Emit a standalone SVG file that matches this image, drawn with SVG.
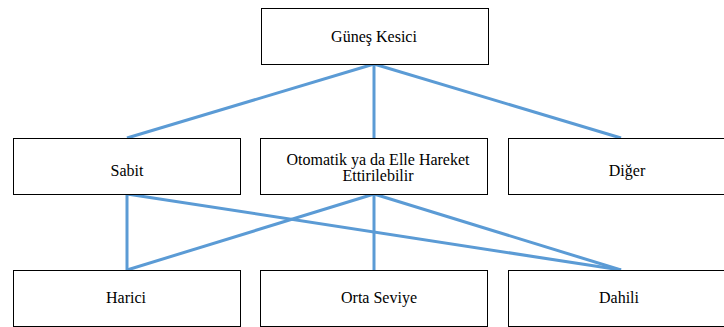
<svg xmlns="http://www.w3.org/2000/svg" width="724" height="327" viewBox="0 0 724 327">
<style>
.box{fill:#fff;stroke:#000;stroke-width:1}
.t{font-family:'Liberation Serif','DejaVu Serif',serif;font-size:16px;fill:#000;text-anchor:middle}
.c{stroke:#5B9BD5;stroke-width:3;fill:none}
</style>
<rect width="724" height="327" fill="#fff"/>
<g id="connectors">
<line class="c" x1="374" y1="64" x2="127" y2="138"/>
<line class="c" x1="374" y1="64" x2="374" y2="138"/>
<line class="c" x1="374" y1="64" x2="621" y2="138"/>
<line class="c" x1="127" y1="194" x2="127" y2="270"/>
<line class="c" x1="127" y1="194" x2="621" y2="270"/>
<line class="c" x1="374" y1="194" x2="127" y2="270"/>
<line class="c" x1="374" y1="194" x2="374" y2="270"/>
<line class="c" x1="374" y1="194" x2="621" y2="270"/>
</g>
<g id="gunes-kesici"><rect class="box" x="261.5" y="8.5" width="227" height="56"/><text class="t" x="374" y="42">Güneş Kesici</text></g>
<g id="sabit"><rect class="box" x="13.5" y="138.5" width="227" height="56"/><text class="t" x="127" y="176">Sabit</text></g>
<g id="otomatik"><rect class="box" x="260.5" y="138.5" width="227" height="56"/><text class="t" x="378" y="165">Otomatik ya da Elle Hareket</text><text class="t" x="378" y="181">Ettirilebilir</text></g>
<g id="diger"><rect class="box" x="508.5" y="138.5" width="240" height="56"/><text class="t" x="627" y="176">Diğer</text></g>
<g id="harici"><rect class="box" x="13.5" y="270.5" width="227" height="56"/><text class="t" x="126" y="303">Harici</text></g>
<g id="orta-seviye"><rect class="box" x="260.5" y="270.5" width="227" height="56"/><text class="t" x="379" y="303">Orta Seviye</text></g>
<g id="dahili"><rect class="box" x="508.5" y="270.5" width="240" height="56"/><text class="t" x="619" y="303">Dahili</text></g>
</svg>
